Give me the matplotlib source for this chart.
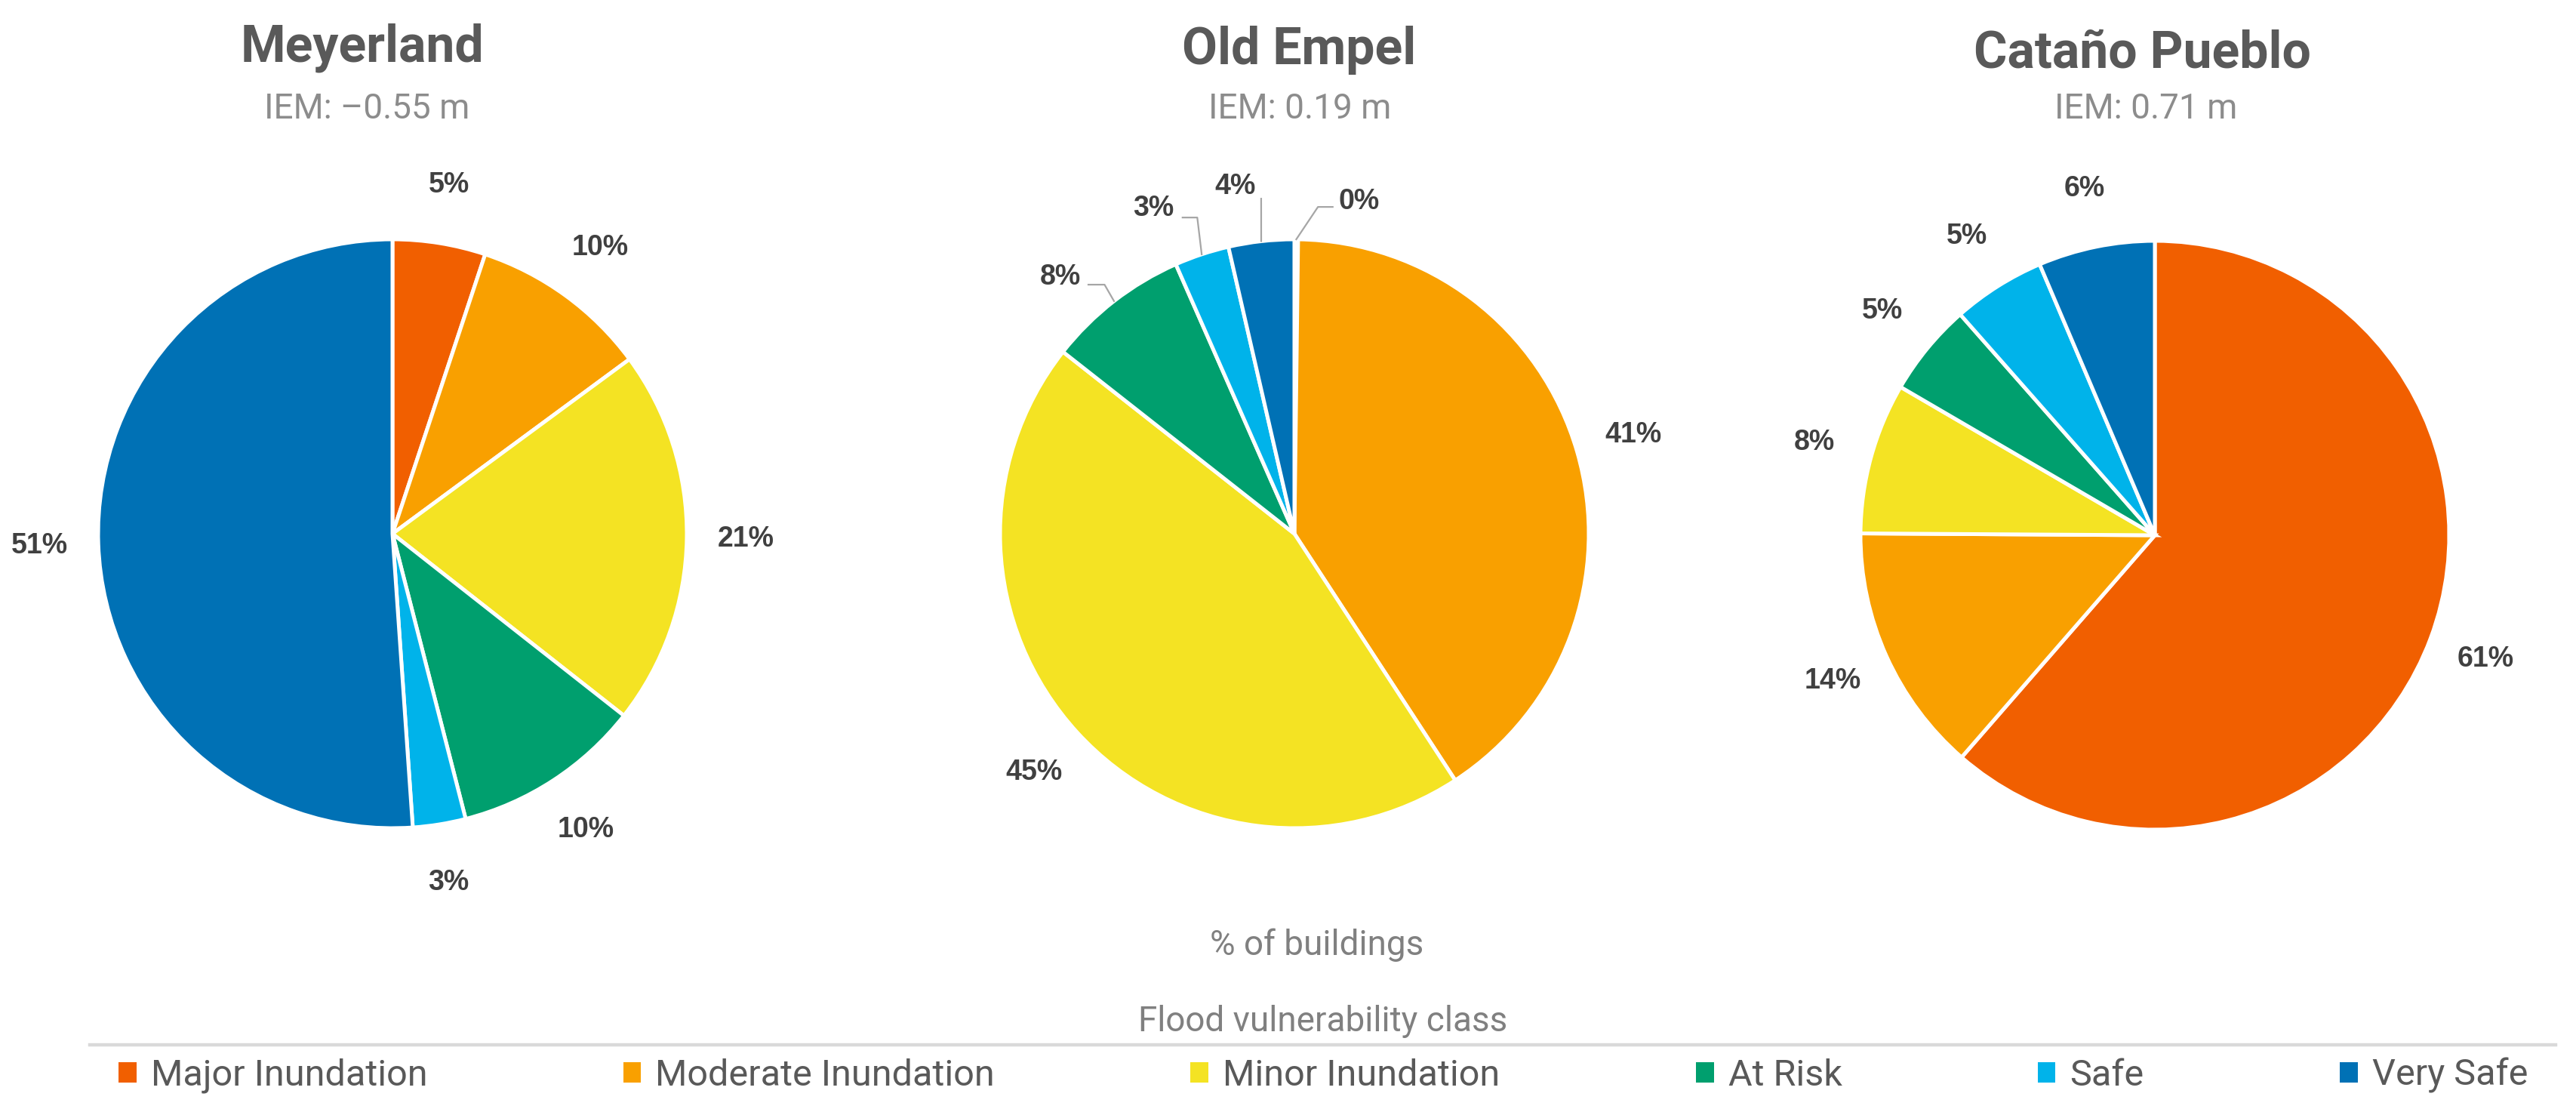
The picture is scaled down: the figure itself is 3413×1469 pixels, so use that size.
import numpy as np
import matplotlib.pyplot as plt
from matplotlib.patches import Patch
from matplotlib.lines import Line2D

# classes and colours
classes = ["Major Inundation", "Moderate Inundation", "Minor Inundation", "At Risk", "Safe", "Very Safe"]
class_colors = ["#F15F00", "#F9A000", "#F4E323", "#009F6E", "#00B3EA", "#0071B5"]

sites = ["Meyerland", "Old Empel", "Cataño Pueblo"]
iem = ["IEM: –0.55 m", "IEM: 0.19 m", "IEM: 0.71 m"]

# % of buildings per class
meyerland = [5.1, 9.8, 20.7, 10.4, 2.9, 51.1]
old_empel = [0.2, 40.6, 44.8, 7.8, 3.0, 3.6]
catano = [61.4, 13.7, 8.3, 5.1, 5.1, 6.4]
site_values = [meyerland, old_empel, catano]

plt.rcParams['font.family'] = ['Roboto', 'DejaVu Sans']
pct_font = ['Liberation Sans', 'DejaVu Sans']

W, H = 3413, 1469
fig = plt.figure(figsize=(W/200, H/200), dpi=200)

R = 390
centers = [(520, 707), (1715, 707), (2855, 709)]
title_pos = [(480, 82), (1721, 85), (2838, 90)]
sub_pos = [(486, 157), (1722, 157), (2843, 157)]

# Old Empel small slices: label (x, y, ha), elbow, end of leader
empel_leaders = {
    0: ((0.15, 1.128, 'left'), (0.08, 1.11), (0.13, 1.11)),
    3: ((-0.725, 0.872, 'right'), (-0.645, 0.846), (-0.70, 0.846)),
    4: ((-0.41, 1.105, 'right'), (-0.33, 1.074), (-0.38, 1.074)),
    5: ((-0.20, 1.18, 'center'), (-0.113, 1.138), (-0.113, 1.138)),
}

for k in range(3):
    cx, cy = centers[k]
    ax = fig.add_axes([(cx-R)/W, 1-(cy+R)/H, 2*R/W, 2*R/H])
    wedges, _ = ax.pie(site_values[k], colors=class_colors, startangle=90, counterclock=False,
                       wedgeprops=dict(edgecolor='white', linewidth=1.8))
    ax.set_xlim(-1, 1)
    ax.set_ylim(-1, 1)
    ax.axis('off')

    for i, w in enumerate(wedges):
        ang = np.deg2rad((w.theta1 + w.theta2)/2)
        txt = "%.0f%%" % site_values[k][i]
        if k == 1 and i in empel_leaders:
            (tx, ty, ha), elbow, end = empel_leaders[i]
            ax.plot([np.cos(ang), elbow[0], end[0]], [np.sin(ang), elbow[1], end[1]],
                    color='#a6a6a6', lw=0.8, clip_on=False)
            ax.text(tx, ty, txt, ha=ha, va='center', fontsize=13.5, fontweight='bold',
                    color='#404040', family=pct_font)
        else:
            ax.text(1.2*np.cos(ang), 1.2*np.sin(ang), txt, ha='center', va='center',
                    fontsize=13.5, fontweight='bold', color='#404040', family=pct_font)

    fig.text(title_pos[k][0]/W, 1-title_pos[k][1]/H, sites[k], ha='center', va='baseline',
             fontsize=24.5, fontweight='bold', color='#595959')
    fig.text(sub_pos[k][0]/W, 1-sub_pos[k][1]/H, iem[k], ha='center', va='baseline',
             fontsize=16.5, color='#8c8c8c')

fig.text(1745/W, 1-1265/H, "% of buildings", ha='center', va='baseline', fontsize=16.5, color='#808080')
fig.text(1753/W, 1-1366/H, "Flood vulnerability class", ha='center', va='baseline', fontsize=16.5, color='#808080')

fig.add_artist(Line2D([119/W, 3386/W], [1-1384/H, 1-1384/H], color='#d9d9d9', lw=1.6))

handles = [Patch(facecolor=c, edgecolor='none', label=l) for c, l in zip(class_colors, classes)]
fig.legend(handles=handles, loc='center', ncol=6, mode='expand',
           bbox_to_anchor=(157/W, 1-1452/H, (3349-157)/W, 55/H), frameon=False,
           prop={'size': 17.5}, labelcolor='#595959',
           handlelength=0.49, handleheight=0.49, handletextpad=0.39, borderpad=0, borderaxespad=0)

fig.savefig("out.png", dpi=200, facecolor='white')
